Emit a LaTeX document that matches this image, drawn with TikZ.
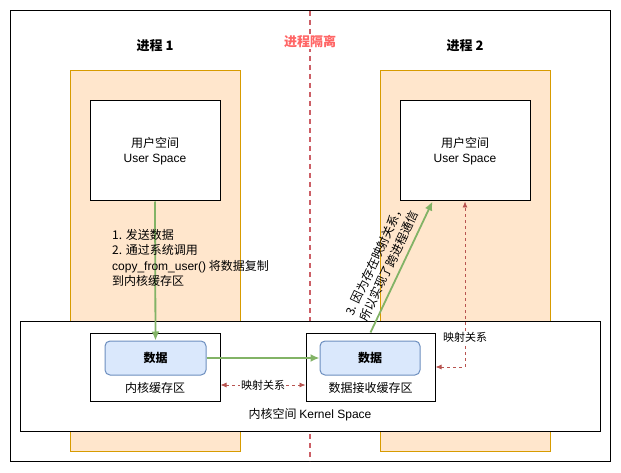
\documentclass[tikz,border=0pt]{standalone}
\usepackage{fontspec}
\setmainfont{Noto Sans CJK SC}
\newfontfamily\lat{Liberation Sans}
\usepackage{xcolor}
\usetikzlibrary{arrows.meta}

\definecolor{procfill}{HTML}{FFE6CC}
\definecolor{procline}{HTML}{D79B00}
\definecolor{datafill}{HTML}{DAE8FC}
\definecolor{dataline}{HTML}{6C8EBF}
\definecolor{flowgreen}{HTML}{82B366}
\definecolor{mapred}{HTML}{B85450}
\definecolor{seprred}{HTML}{CC5F66}
\definecolor{septext}{HTML}{FF6666}

\begin{document}
\begin{tikzpicture}[x=1pt, y=-1pt, font=\fontsize{12}{15.5}\selectfont,
    proc/.style={draw=procline, fill=procfill, line width=1pt},
    box/.style={draw, line width=1pt, fill=white},
    data/.style={draw=dataline, fill=datafill, line width=1pt, rounded corners=5pt,
      minimum width=101pt, minimum height=34pt, font=\bfseries\fontsize{12}{15}\selectfont},
    title/.style={font=\bfseries\fontsize{13}{15}\selectfont},
    flow/.style={-{Latex[length=9pt,width=8pt]}, draw=flowgreen, line width=1.8pt},
    map/.style={{Latex[length=6pt,width=5pt]}-{Latex[length=6pt,width=5pt]}, draw=mapred,
      dash pattern=on 3pt off 3pt, line width=0.8pt},
    maplabel/.style={fill=white, inner sep=1pt, font=\fontsize{11}{13}\selectfont}]
  \useasboundingbox (0,0) rectangle (621,473);
  \draw[line width=1pt] (10,11) rectangle (610,461);

  % the two processes
  \draw[proc] (70,71) rectangle (240,451);
  \draw[proc] (380,71) rectangle (550,451);
  \node[title] (p1) at (155,46) {进程 1};
  \node[title] (p2) at (465,46) {进程 2};

  % isolation line
  \draw[seprred, line width=1.5pt, dash pattern=on 5pt off 4pt] (310,11) -- (310,461);
  \node[fill=white, inner sep=1pt, text=septext, title] (iso) at (310,42) {进程隔离};

  \node[box, minimum width=130pt, minimum height=100pt, align=center] (us1) at (155,151) {用户空间\\{\lat User Space}};
  \node[box, minimum width=130pt, minimum height=100pt, align=center] (us2) at (465,151) {用户空间\\{\lat User Space}};

  % kernel
  \draw[line width=1pt, fill=white] (20,321) rectangle (600,431);
  \node (ks) at (310,415) {内核空间 {\lat Kernel Space}};
  \node[box, minimum width=130pt, minimum height=68pt] (kb1) at (155,367) {};
  \node[box, minimum width=129pt, minimum height=68pt] (kb2) at (370.5,367) {};
  \node[data] (d1) at (155.5,358) {数据};
  \node[data, minimum width=100pt] (d2) at (370,358) {数据};
  \node (kb1l) at (155,388) {内核缓存区};
  \node (kb2l) at (370.5,388) {数据接收缓存区};

  \draw[flow] (us1.south) -- (d1.north);
  \draw[flow] (d1.east) -- (d2.west);
  \draw[flow] (kb2.north) -- ([xshift=33pt]us2.south west);
  \node[align=left, anchor=west, inner sep=1pt] (s1) at (111,258) {1. 发送数据\\2. 通过系统调用\\{\lat copy\_from\_user()} 将数据复制\\到内核缓存区};
  \node[align=center, rotate=64.7, inner sep=1pt] (s3) at (382,263) {3. 因为存在映射关系，\\所以实现了跨进程通信};

  \draw[map] ([yshift=-18pt]kb1.east) -- ([yshift=-18pt]kb2.west) node[midway, maplabel] (m1) {映射关系};
  \draw[map] (kb2.east) -| (us2.south) node[pos=0.59, maplabel] (m2) {映射关系};
\end{tikzpicture}
\end{document}
